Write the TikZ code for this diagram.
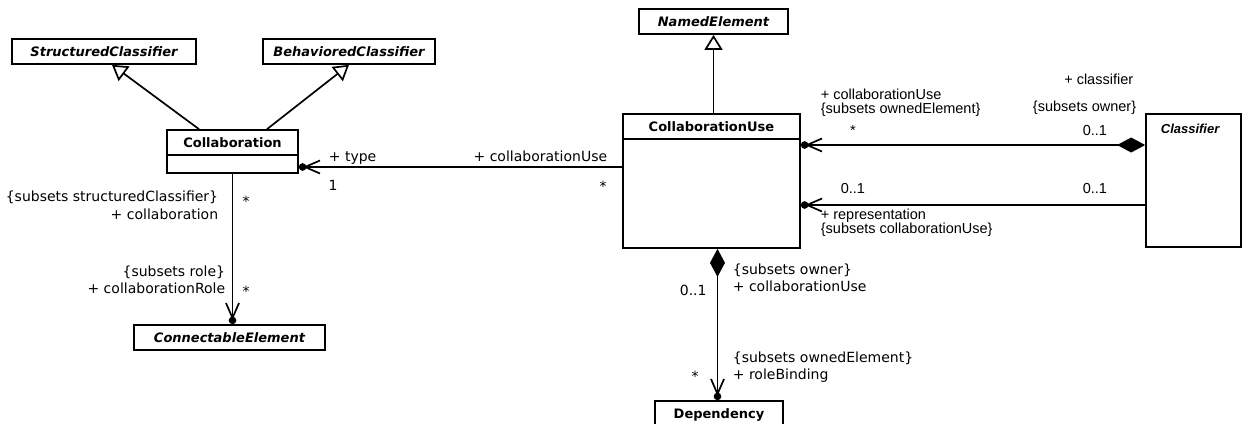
\documentclass[tikz,border=0pt]{standalone}
\usepackage{fontspec}
\setmainfont{DejaVu Sans}
\newfontfamily\arialfont{Liberation Sans}
\usetikzlibrary{arrows.meta,positioning}

\begin{document}
\begin{tikzpicture}[
  x=1pt, y=-1pt, line width=1.7pt,
  clsbox/.style={draw, line width=1.7pt, inner sep=0pt, fill=white},
  clsname/.style={font=\fontsize{13}{15}\selectfont\bfseries},
  absname/.style={font=\fontsize{13}{15}\selectfont\bfseries\itshape},
  lbl/.style={font=\fontsize{14}{17.5}\selectfont, inner sep=0pt},
  rlbl/.style={font=\arialfont\fontsize{14.5}{14}\selectfont, inner sep=0pt},
  gen/.style={-{Triangle[length=15pt,width=18pt,fill=white]}},
  nav/.style={-{Straight Barb[length=15pt,width=13pt,sep=-3.5pt]Circle[length=7.5pt]}},
  compo/.style={{Diamond[length=28pt,width=15pt]}-{Straight Barb[length=15pt,width=13pt,sep=-3.5pt]Circle[length=7.5pt]}},
]
\useasboundingbox (0,0) rectangle (1242,423);

% classes
\node[clsbox, minimum width=184pt, minimum height=25pt, absname] (strcls) at (104,51.5) {StructuredClassifier};
\node[clsbox, minimum width=172pt, minimum height=25pt, absname] (behcls) at (349,51.5) {BehavioredClassifier};
\node[clsbox, minimum width=149pt, minimum height=25pt, absname] (named) at (713.5,21.5) {NamedElement};
\node[clsbox, minimum width=131pt, minimum height=43pt] (collab) at (232.5,151.5) {};
\node[clsbox, minimum width=131pt, minimum height=25pt, clsname, below=0pt of collab.north] (collabname) {Collaboration};
\node[clsbox, minimum width=177pt, minimum height=134pt] (cu) at (711.5,181) {};
\node[clsbox, minimum width=177pt, minimum height=25pt, clsname, below=0pt of cu.north] (cuname) {CollaborationUse};
\node[clsbox, minimum width=95pt, minimum height=133pt] (clsf) at (1193.5,180.5) {};
\node[font=\arialfont\fontsize{13}{14}\selectfont\bfseries\itshape, anchor=west, inner sep=0pt] (clsfname) at (1160,129) {Classifier};
\node[clsbox, minimum width=191pt, minimum height=25pt, absname] (conn) at (229.5,337.5) {ConnectableElement};
\node[clsbox, minimum width=128pt, minimum height=28pt, clsname] (dep) at (719,415) {Dependency};

% generalizations
\draw[gen] ([xshift=-33.5pt]collab.north) -- ([xshift=8pt]strcls.south);
\draw[gen] ([xshift=34.5pt]collab.north) -- (behcls.south);
\draw[gen] (cu.north -| named.south) -- (named.south);

% associations
\coordinate (colR) at ([yshift=-15.5pt]collab.east);
\draw[nav] (cu.west |- colR) -- (colR);
\draw[nav] (collab.south) -- (collab.south |- conn.north);
\coordinate (cuA) at ([yshift=36pt]cu.east);
\coordinate (cuB) at ([yshift=-24pt]cu.east);
\draw[compo] (clsf.west |- cuA) -- (cuA);
\draw[nav] (clsf.west |- cuB) -- (cuB);
\coordinate (cuS) at ([xshift=6pt]cu.south);
\draw[compo] (cuS) -- (cuS |- dep.north);

% ends: Collaboration / CollaborationUse
\node[lbl, anchor=base west] (typelbl) at (328,161) {+ type};
\node[lbl, anchor=base] (typemul) at (333,190) {1};
\node[lbl, anchor=base east] (culbl) at (608,161) {+ collaborationUse};
\node[lbl, anchor=base] (cumul) at (603,191) {*};
% ends: Collaboration / ConnectableElement
\node[lbl, anchor=east, align=right] (colrole) at (219,205.5) {\{subsets structuredClassifier\}\\+ collaboration};
\node[lbl, anchor=base] (colmul) at (246,206) {*};
\node[lbl, anchor=east, align=right] (rolelbl) at (226,280) {\{subsets role\}\\+ collaborationRole};
\node[lbl, anchor=base] (rolemul) at (246,296) {*};
% ends: CollaborationUse / Classifier
\node[rlbl, anchor=west, align=left] (ownlbl) at (820,103) {+ collaborationUse\\\{subsets ownedElement\}};
\node[rlbl, anchor=base] (ownmul) at (853,135) {*};
\node[rlbl, anchor=base east] (clsflbl) at (1134,84) {+ classifier};
\node[rlbl, anchor=base east] (ownerlbl) at (1137,111) {\{subsets owner\}};
\node[rlbl, anchor=base west] (clsfmul) at (1082,135) {0..1};
\node[rlbl, anchor=base west] (repmulL) at (840,193) {0..1};
\node[rlbl, anchor=base west] (repmulR) at (1082,193) {0..1};
\node[rlbl, anchor=west, align=left] (replbl) at (820,223) {+ representation\\\{subsets collaborationUse\}};
% ends: CollaborationUse / Dependency
\node[lbl, anchor=west, align=left] (ownerB) at (732,278) {\{subsets owner\}\\+ collaborationUse};
\node[lbl, anchor=base west] (ownerBmul) at (679,295) {0..1};
\node[lbl, anchor=west, align=left] (bindlbl) at (732,367) {\{subsets ownedElement\}\\+ roleBinding};
\node[lbl, anchor=base] (bindmul) at (695,381) {*};

\end{tikzpicture}
\end{document}
